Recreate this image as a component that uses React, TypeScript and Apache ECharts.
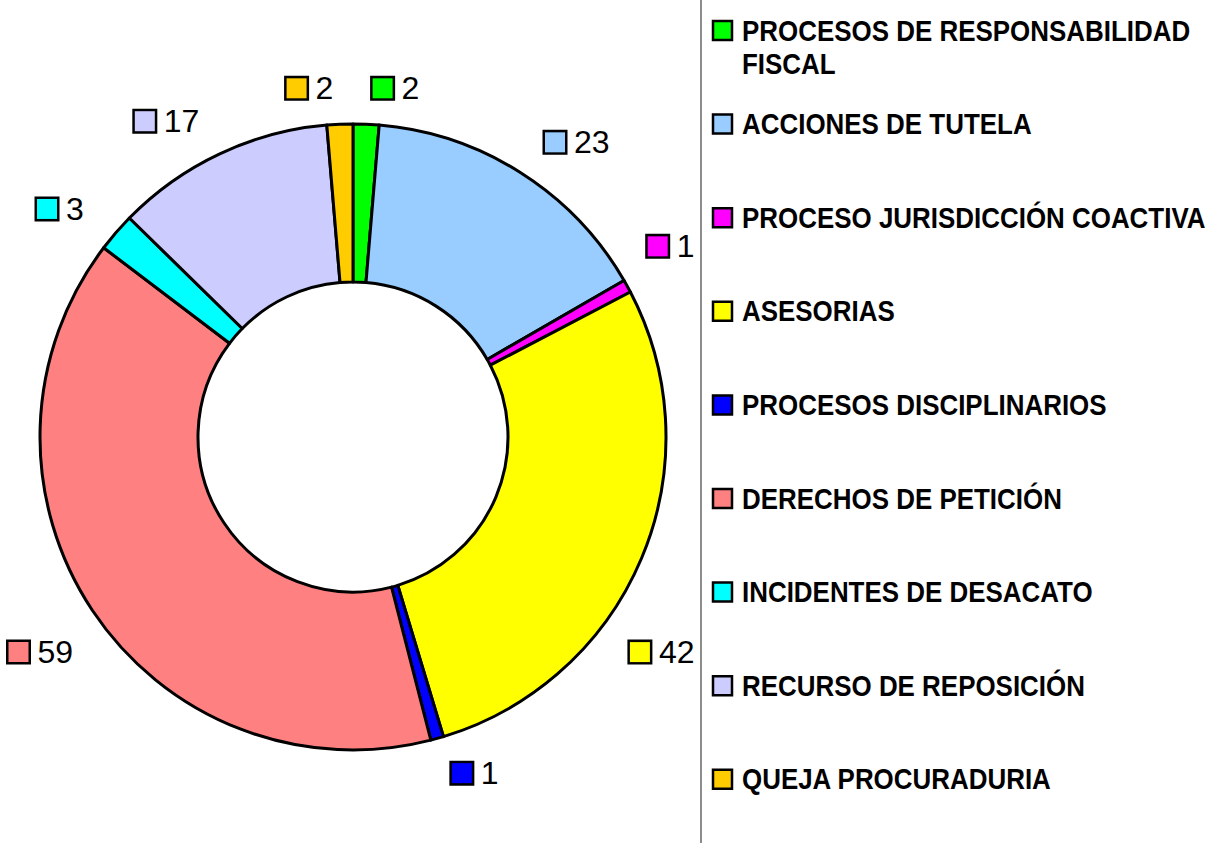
import React, { useEffect, useRef } from "react";
import * as echarts from "echarts";

const categories = [
  "PROCESOS DE RESPONSABILIDAD FISCAL",
  "ACCIONES DE TUTELA",
  "PROCESO JURISDICCIÓN COACTIVA",
  "ASESORIAS",
  "PROCESOS DISCIPLINARIOS",
  "DERECHOS DE PETICIÓN",
  "INCIDENTES DE DESACATO",
  "RECURSO DE REPOSICIÓN",
  "QUEJA PROCURADURIA",
];
const legendLabels = [
  "PROCESOS DE RESPONSABILIDAD\nFISCAL",
  "ACCIONES DE TUTELA",
  "PROCESO JURISDICCIÓN COACTIVA",
  "ASESORIAS",
  "PROCESOS DISCIPLINARIOS",
  "DERECHOS DE PETICIÓN",
  "INCIDENTES DE DESACATO",
  "RECURSO DE REPOSICIÓN",
  "QUEJA PROCURADURIA",
];
const values = [2, 23, 1, 42, 1, 59, 3, 17, 2];
const colors = [
  "#00FF00",
  "#99CCFF",
  "#FF00FF",
  "#FFFF00",
  "#0000FF",
  "#FF8080",
  "#00FFFF",
  "#CCCCFF",
  "#FFCC00",
];

const CX = 353;
const CY = 437;
const PLOT_MIN_X = 6;
const PLOT_MAX_X = 697;
const LABEL_GAP = 5;

export default function App() {
  const ref = useRef<HTMLDivElement>(null);
  useEffect(() => {
    if (!ref.current) return;
    const chart = echarts.init(ref.current, undefined, { renderer: "svg" });

    const rich: Record<string, any> = {
      v: {
        fontFamily: "'Liberation Sans', Arial, sans-serif",
        fontSize: 32,
        color: "#000",
        padding: [0, 0, 0, 9],
      },
    };
    colors.forEach((c, i) => {
      rich["b" + i] = {
        width: 20,
        height: 20,
        backgroundColor: c,
        borderColor: "#000",
        borderWidth: 2.5,
      };
    });

    const legendTop = 30.5;
    const legendStep = 93.6;
    const graphics: any[] = [
      {
        type: "line",
        shape: { x1: 701, y1: 0, x2: 701, y2: 843 },
        style: { stroke: "#666666", lineWidth: 1.5 },
        silent: true,
      },
    ];
    legendLabels.forEach((lab, i) => {
      const cy = legendTop + legendStep * i;
      graphics.push({
        type: "rect",
        shape: { x: 713, y: cy - 9.5, width: 19, height: 19 },
        style: { fill: colors[i], stroke: "#000", lineWidth: 2.5 },
        silent: true,
      });
      graphics.push({
        type: "text",
        x: 742,
        y: cy - 16.5,
        scaleX: 0.865,
        style: {
          text: lab,
          x: 0,
          y: 0,
          font: "bold 30px 'Liberation Sans', Arial, sans-serif",
          lineHeight: 33,
          fill: "#000",
          verticalAlign: "top",
          align: "left",
        },
        silent: true,
      });
    });

    // keep labels inside the plot area by sliding them along their circle
    const labelLayout = (p: any) => {
      const r = p.labelRect;
      if (!r) return {};
      const isRight = p.align === "left";
      const ax0 = isRight ? r.x - LABEL_GAP : r.x + r.width + LABEL_GAP;
      const ay0 = r.y + r.height / 2;
      const d = Math.hypot(ax0 - CX, ay0 - CY);
      const sign = ay0 >= CY ? 1 : -1;
      if (isRight && r.x + r.width > PLOT_MAX_X) {
        const left = PLOT_MAX_X - r.width;
        const ax = left - LABEL_GAP;
        const dy = Math.sqrt(Math.max(0, d * d - (ax - CX) * (ax - CX)));
        return { x: left, y: CY + sign * dy, align: "left", verticalAlign: "middle" };
      }
      if (!isRight && r.x < PLOT_MIN_X) {
        const right = PLOT_MIN_X + r.width;
        const ax = right + LABEL_GAP;
        const dy = Math.sqrt(Math.max(0, d * d - (ax - CX) * (ax - CX)));
        return { x: right, y: CY + sign * dy, align: "right", verticalAlign: "middle" };
      }
      return {};
    };

    chart.setOption({
      animation: false,
      backgroundColor: "#ffffff",
      graphic: graphics,
      series: [
        {
          type: "pie",
          center: [CX, CY],
          radius: [155, 313],
          startAngle: 90,
          clockwise: true,
          avoidLabelOverlap: false,
          itemStyle: { borderColor: "#000", borderWidth: 3 },
          label: {
            show: true,
            position: "outside",
            distanceToLabelLine: LABEL_GAP,
            formatter: (p: any) => `{b${p.dataIndex}|}{v|${p.value}}`,
            rich,
          },
          labelLine: { show: false, length: 36, length2: 0 },
          labelLayout,
          emphasis: { disabled: true },
          data: categories.map((name, i) => ({
            name,
            value: values[i],
            itemStyle: { color: colors[i] },
          })),
        },
      ],
    });
    return () => chart.dispose();
  }, []);
  return (
    <div
      ref={ref}
      style={{ position: "absolute", left: 0, top: 0, width: 1218, height: 843 }}
    />
  );
}
